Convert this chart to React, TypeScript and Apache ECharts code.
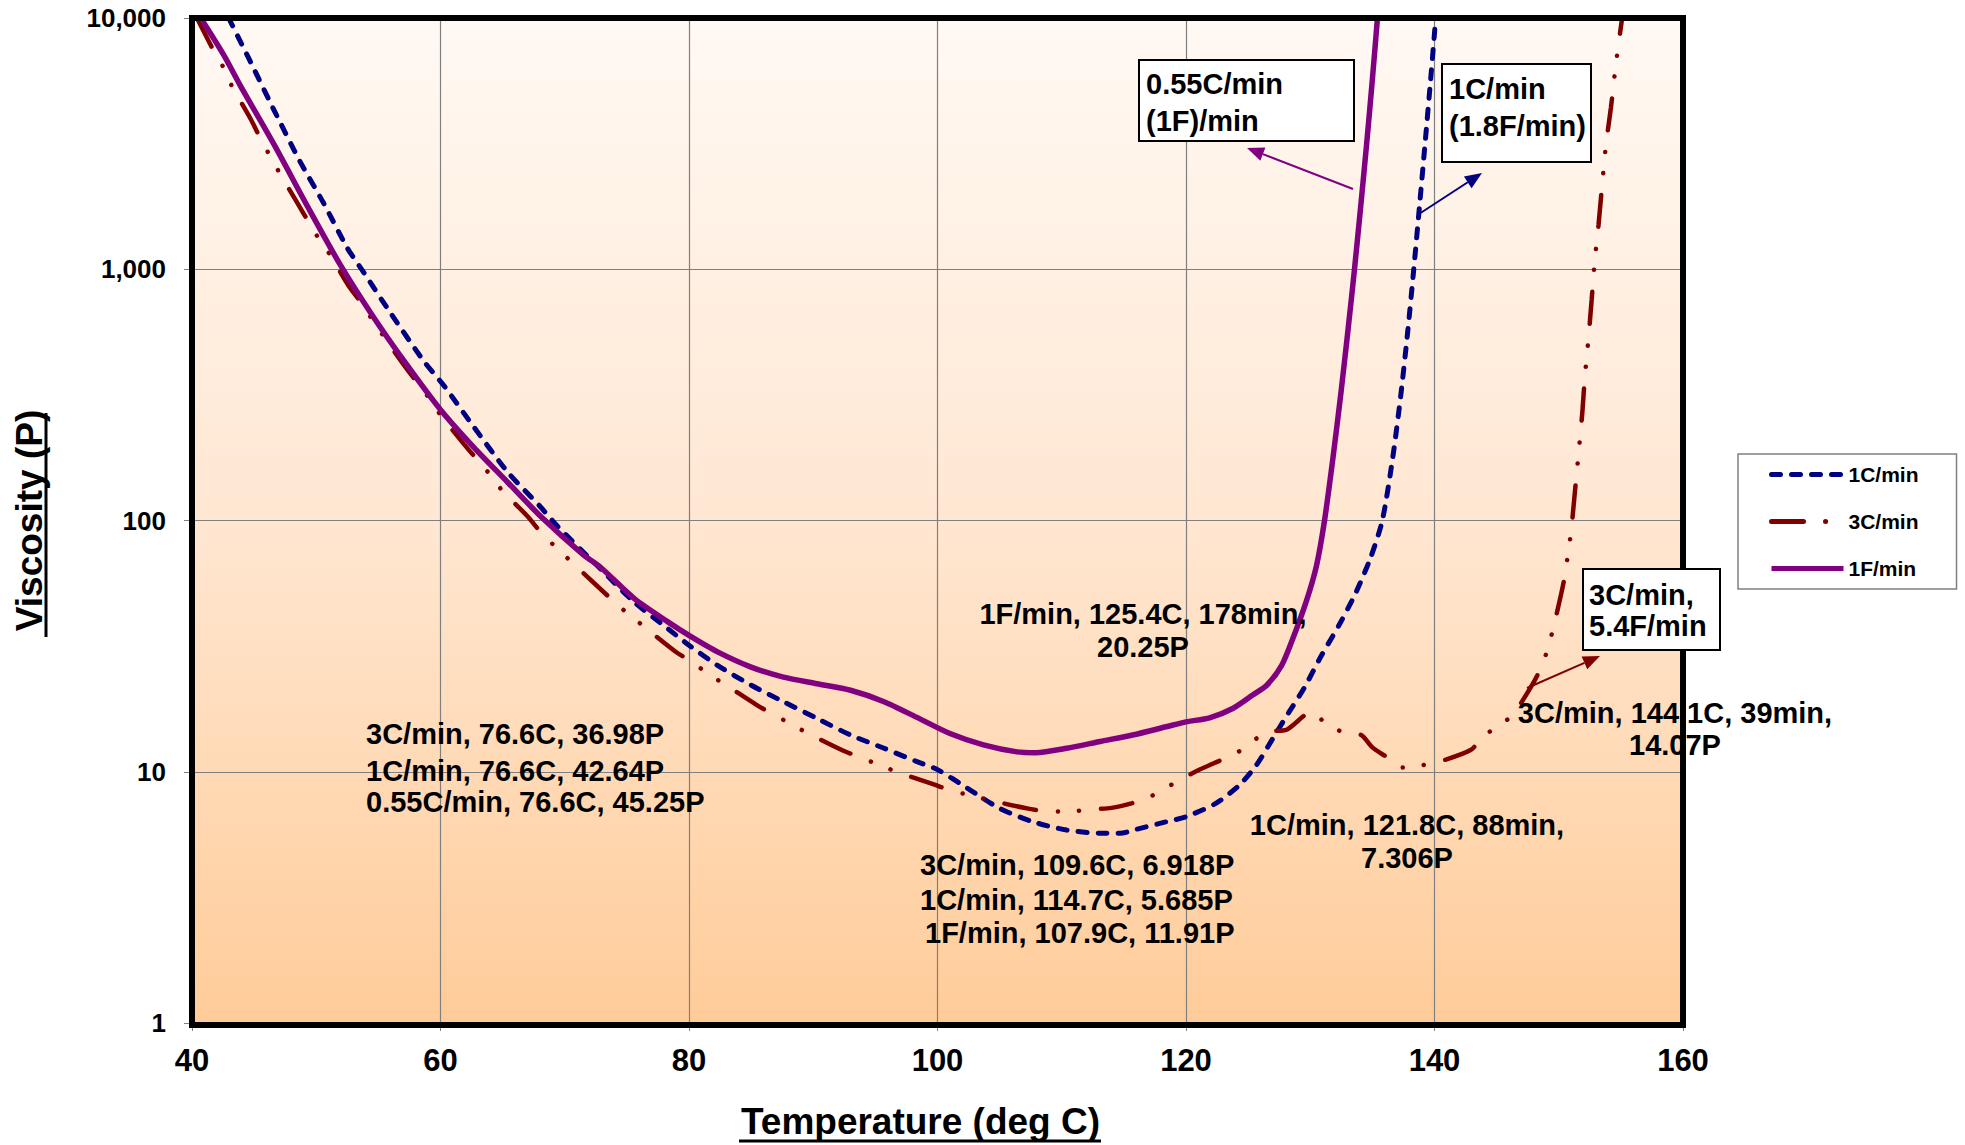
import React, { useEffect, useRef } from "react";
import * as echarts from "echarts";

const FF = '"Liberation Sans", Arial, Helvetica, sans-serif';
const FF_NARROW = '"Liberation Sans Narrow", "Arial Narrow", "Liberation Sans", Arial, sans-serif';

const seriesNames = ["1C/min", "3C/min", "1F/min"];
const xMin = 40;
const xMax = 160;
const xStep = 20;
const yMin = 1;
const yMax = 10000;

// 1C/min (1.8F/min)
const temp1C = [42.95, 44.7, 46.6, 48.7, 50.6, 52.5, 53.8, 56.0, 58.7, 60.3, 62.7, 65.4, 68.0, 69.4, 72.9, 75.6, 78.3, 80, 82.3, 85.0, 87.6, 90.3, 93.0, 95.7, 98.3, 100, 102.4, 105, 107.7, 110.4, 113.1, 114.7, 116, 118.4, 120, 122.4, 124.3, 125.65, 127, 128.3, 129.5, 130.9, 132.4, 133.7, 134.85, 135.8, 136.64, 137.29, 137.84, 138.33, 138.79, 139.24, 139.68, 140.1];
const visc1C = [10000, 6700, 4300, 2680, 1830, 1215, 975, 667, 428, 343, 235, 156, 114, 95, 64, 47.3, 37.1, 31.9, 26.5, 22.1, 19.0, 16.3, 14.0, 12.4, 11.0, 10.2, 8.6, 7.15, 6.32, 5.86, 5.69, 5.685, 5.9, 6.32, 6.62, 7.48, 8.85, 10.6, 13.6, 17.3, 21.5, 29, 39, 52, 71, 100, 178, 316, 562, 1000, 1778, 3162, 5623, 10000];

// 3C/min (5.4F/min)
const temp3C = [40.4, 41.7, 42.55, 43.2, 44.7, 45.4, 46.2, 47.0, 48.5, 49.3, 50.15, 51.1, 52.6, 53.6, 54.5, 55.4, 57.05, 58.1, 59.1, 60, 61.9, 62.9, 64.0, 65.0, 67.0, 68.05, 69.2, 73.7, 74.9, 76.1, 78.9, 80.3, 81.6, 83.0, 85.4, 86.8, 88.3, 89.6, 92.3, 93.8, 95.4, 96.7, 99.7, 101.15, 102.75, 104.2, 107.2, 108.6, 110.5, 112.4, 114.0, 115.6, 117, 119.7, 121.1, 122.6, 124, 126.5, 128.1, 130.1, 131.4, 132.8, 134.1, 135.0, 136.2, 137.4, 138.9, 140.2, 142.9, 144.1, 145.2, 146.4, 148, 148.7, 149.2, 149.6, 150.4, 150.8, 151.0, 151.3, 151.6, 151.9, 152.1, 152.4, 152.65, 152.9, 153.2, 153.5, 153.8, 154.2, 154.6, 155.1];
const visc3C = [10000, 7480, 6330, 5370, 3980, 3400, 2870, 2440, 1830, 1567, 1337, 1143, 860, 738, 631, 543, 416, 355, 306, 263, 201, 176, 152, 131, 104, 90, 79, 48.9, 43.3, 38.8, 30.1, 27.2, 24.4, 22.1, 18.5, 16.9, 15.4, 14.2, 12.2, 11.4, 10.6, 10.0, 8.9, 8.4, 8.03, 7.7, 7.15, 6.98, 6.95, 7.08, 7.18, 7.48, 7.9, 9.4, 10.2, 11.0, 11.8, 14.4, 14.7, 17.3, 15.3, 14.3, 14.0, 12.5, 11.4, 10.4, 10.6, 10.9, 12.2, 14.07, 15.2, 17.1, 22.8, 26.8, 32, 38, 57, 77, 91, 130, 186, 270, 372, 537, 758, 1085, 1500, 2190, 3130, 4400, 6550, 10000];

// 1F/min (0.55C/min)
const temp1F = [40.7, 42.55, 43.9, 46.6, 49.3, 51.95, 54.6, 57.3, 60, 62.7, 65.4, 68.05, 71.5, 72.9, 75.6, 78.3, 80, 82.3, 85.0, 87.6, 90.3, 93, 95.7, 98.3, 101, 103.7, 106.4, 107.9, 110.4, 113.1, 115.7, 118.4, 120, 121.9, 123.8, 125.4, 126.5, 127.7, 128.6, 129.7, 130.5, 131.15, 131.83, 132.45, 133.02, 133.56, 134.06, 134.54, 134.99, 135.41];
const visc1F = [10000, 7130, 5370, 3140, 1778, 1038, 646, 416, 276, 195, 142, 104, 73, 65, 48.9, 39.5, 34.9, 30, 26.1, 23.8, 22.4, 21.1, 19.0, 16.5, 14.2, 12.8, 12.0, 11.91, 12.4, 13.2, 14.0, 15.1, 15.8, 16.4, 17.9, 20.25, 22.1, 26.5, 33.9, 48, 66, 100, 178, 316, 562, 1000, 1778, 3162, 5623, 10000];

const pairs = (t: number[], v: number[]) => t.map((x, i) => [x, v[i]]);

// layout
const GL = 192, GT = 18, GW = 1491, GH = 1007;

function arrow(x1: number, y1: number, x2: number, y2: number, color: string) {
  const dx = x2 - x1, dy = y2 - y1;
  const len = Math.sqrt(dx * dx + dy * dy);
  const ux = dx / len, uy = dy / len;
  const hl = 17, hw = 7;
  const bx = x2 - ux * hl, by = y2 - uy * hl;
  const px = -uy * hw, py = ux * hw;
  return [
    { type: "line", z: 60, shape: { x1, y1, x2: bx, y2: by }, style: { stroke: color, lineWidth: 2 } },
    { type: "polygon", z: 60, shape: { points: [[x2, y2], [bx + px, by + py], [bx - px, by - py]] }, style: { fill: color } },
  ];
}

function txt(text: string, x: number, y: number, align: string, z = 50) {
  return {
    type: "text",
    z,
    style: { text, x, y, fill: "#000", font: `bold 29px ${FF}`, textAlign: align, textVerticalAlign: "middle" },
  };
}

export default function App() {
  const ref = useRef<HTMLDivElement>(null);
  useEffect(() => {
    if (!ref.current) return;
    const chart = echarts.init(ref.current, null, { renderer: "svg" });
    const option: any = {
      animation: false,
      backgroundColor: "#ffffff",
      grid: {
        left: GL,
        top: GT,
        width: GW,
        height: GH,
        show: true,
        borderWidth: 0,
        backgroundColor: new echarts.graphic.LinearGradient(0, 0, 0, 1, [
          { offset: 0, color: "#FFF9F4" },
          { offset: 0.5, color: "#FFE7D2" },
          { offset: 1, color: "#FFCC99" },
        ]),
      },
      legend: {
        orient: "vertical",
        left: 1738,
        top: 454,
        padding: [10, 38, 10, 31],
        itemGap: 26,
        itemWidth: 72,
        itemHeight: 14,
        backgroundColor: "#ffffff",
        borderColor: "#808080",
        borderWidth: 1.5,
        borderRadius: 0,
        itemStyle: { opacity: 0 },
        lineStyle: { width: 5 },
        textStyle: { fontSize: 21, fontWeight: "bold", color: "#000", fontFamily: FF },
        data: seriesNames,
      },
      xAxis: {
        type: "value",
        min: xMin,
        max: xMax,
        interval: xStep,
        axisLine: { show: false },
        axisTick: { show: true, length: 8, lineStyle: { color: "#808080" } },
        splitLine: { show: true, lineStyle: { color: "#7f7f7f", width: 1.2 } },
        axisLabel: { margin: 22, color: "#000", fontWeight: "bold", fontSize: 31, fontFamily: FF_NARROW },
        name: "Temperature (deg C)",
        nameLocation: "middle",
        nameGap: 80,
        nameTextStyle: { fontSize: 37, fontWeight: "bold", color: "#000", fontFamily: FF, padding: [0, 34, 0, 0] },
      },
      yAxis: {
        type: "log",
        logBase: 10,
        min: yMin,
        max: yMax,
        axisLine: { show: false },
        axisTick: { show: true, length: 8, lineStyle: { color: "#808080" } },
        splitLine: { show: true, lineStyle: { color: "#7f7f7f", width: 1.2 } },
        minorTick: { show: false },
        axisLabel: {
          margin: 26,
          color: "#000",
          fontWeight: "bold",
          fontSize: 26,
          fontFamily: FF,
          formatter: (v: number) => Number(v).toLocaleString("en-US"),
        },
        name: "Viscosity (P)",
        nameLocation: "middle",
        nameGap: 144,
        nameTextStyle: { fontSize: 37, fontWeight: "bold", color: "#000", fontFamily: FF },
      },
      series: [
        {
          name: seriesNames[0],
          type: "line",
          data: pairs(temp1C, visc1C),
          symbol: "none",
          smooth: 0.25,
          lineStyle: { color: "#000080", width: 5, type: [9, 11], cap: "round" },
          itemStyle: { color: "#000080" },
          z: 3,
        },
        {
          name: seriesNames[1],
          type: "line",
          data: pairs(temp3C, visc3C),
          symbol: "none",
          smooth: 0.25,
          lineStyle: { color: "#800000", width: 4.5, type: [32, 22, 0.1, 21, 0.1, 22], cap: "round" },
          itemStyle: { color: "#800000" },
          z: 4,
        },
        {
          name: seriesNames[2],
          type: "line",
          data: pairs(temp1F, visc1F),
          symbol: "none",
          smooth: 0.25,
          lineStyle: { color: "#800080", width: 5.5, type: "solid" },
          itemStyle: { color: "#800080" },
          z: 5,
        },
      ],
      graphic: [
        // plot border
        { type: "rect", z: 100, shape: { x: GL, y: GT, width: GW, height: GH }, style: { fill: "none", stroke: "#000", lineWidth: 6 } },
        // annotations
        txt("1F/min, 125.4C, 178min,", 1143, 614, "center"),
        txt("20.25P", 1143, 647, "center"),
        txt("3C/min, 76.6C, 36.98P", 366, 734, "left"),
        txt("1C/min, 76.6C, 42.64P", 366, 771, "left"),
        txt("0.55C/min, 76.6C, 45.25P", 366, 802, "left"),
        txt("3C/min, 109.6C, 6.918P", 920, 865, "left"),
        txt("1C/min, 114.7C, 5.685P", 920, 900, "left"),
        txt("1F/min, 107.9C, 11.91P", 925, 933, "left"),
        txt("1C/min, 121.8C, 88min,", 1407, 825, "center"),
        txt("7.306P", 1407, 858, "center"),
        txt("3C/min, 144.1C, 39min,", 1675, 713, "center"),
        txt("14.07P", 1675, 745, "center"),
        // boxed labels
        { type: "rect", z: 110, shape: { x: 1139, y: 60, width: 215, height: 81 }, style: { fill: "#fff", stroke: "#000", lineWidth: 2 } },
        txt("0.55C/min", 1146, 84, "left", 111),
        txt("(1F)/min", 1146, 121, "left", 111),
        { type: "rect", z: 110, shape: { x: 1442, y: 64, width: 149, height: 98 }, style: { fill: "#fff", stroke: "#000", lineWidth: 2 } },
        txt("1C/min", 1449, 89, "left", 111),
        txt("(1.8F/min)", 1449, 126, "left", 111),
        { type: "rect", z: 110, shape: { x: 1583, y: 569, width: 137, height: 81 }, style: { fill: "#fff", stroke: "#000", lineWidth: 2 } },
        txt("3C/min,", 1589, 595, "left", 111),
        txt("5.4F/min", 1589, 626, "left", 111),
        // arrows
        ...arrow(1353, 189, 1247, 148, "#800080"),
        ...arrow(1419, 214, 1482, 173, "#000080"),
        ...arrow(1527, 688, 1600, 656, "#800000"),
        // title underlines
        { type: "line", z: 50, shape: { x1: 739, y1: 1141, x2: 1101, y2: 1141 }, style: { stroke: "#000", lineWidth: 3 } },
        { type: "line", z: 50, shape: { x1: 46, y1: 413, x2: 46, y2: 637 }, style: { stroke: "#000", lineWidth: 3 } },
      ],
    };
    chart.setOption(option);
    return () => chart.dispose();
  }, []);
  return (
    <div
      ref={ref}
      style={{ position: "fixed", left: 0, top: 0, width: 1965, height: 1145, background: "#fff" }}
    />
  );
}
